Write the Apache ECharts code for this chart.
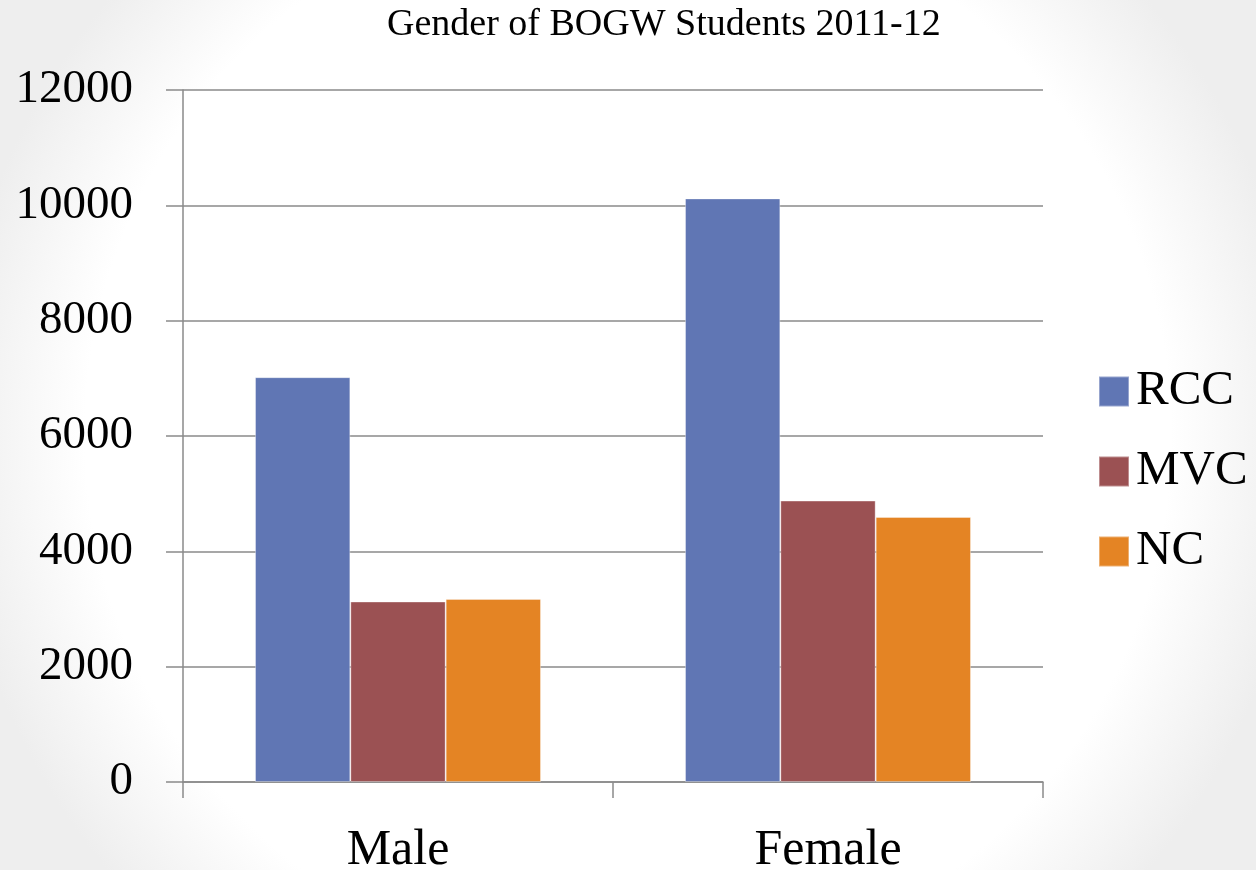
<!DOCTYPE html>
<html>
<head>
<meta charset="utf-8">
<title>Gender of BOGW Students 2011-12</title>
<script src="https://cdn.jsdelivr.net/npm/echarts@6/dist/echarts.min.js"></script>
<style>
  html, body { margin: 0; padding: 0; background: #fff; }
  #chart { width: 1256px; height: 870px; }
</style>
</head>
<body>
<div id="chart"></div>
<script>
// Students receiving the BOG fee waiver, by gender and college
const categories = ['Male', 'Female'];
const rccValues = [7020, 10120];
const mvcValues = [3130, 4880];
const ncValues = [3175, 4595];
const yTicks = [0, 2000, 4000, 6000, 8000, 10000, 12000];

const serif = '"Liberation Serif", "DejaVu Serif", serif';
const axisGray = '#8a8a8a';

const chart = echarts.init(document.getElementById('chart'), null, { renderer: 'canvas' });

function barSeries(name, data, color) {
  return {
    name: name,
    type: 'bar',
    data: data,
    barGap: '0%',
    barCategoryGap: '33.5%',
    itemStyle: { color: color, borderColor: 'rgba(255,255,255,0.35)', borderWidth: 1 },
    emphasis: { disabled: true }
  };
}

chart.setOption({
  animation: false,
  backgroundColor: {
    type: 'radial', x: 0.5, y: 0.5, r: 0.78,
    colorStops: [
      { offset: 0, color: '#ffffff' },
      { offset: 0.8, color: '#ffffff' },
      { offset: 1, color: '#eeeeee' }
    ]
  },
  title: {
    text: 'Gender of BOGW Students 2011-12',
    left: 382,
    top: 1,
    textStyle: { fontFamily: serif, fontSize: 38, fontWeight: 'normal', color: '#000' }
  },
  legend: {
    orient: 'vertical',
    left: 1093,
    top: 362,
    itemWidth: 30,
    itemHeight: 30,
    itemGap: 31,
    icon: 'rect',
    textStyle: { fontFamily: serif, fontSize: 49, color: '#000', padding: [0, 0, 0, 2] },
    data: ['RCC', 'MVC', 'NC']
  },
  grid: {
    left: 183, right: 213, top: 90, bottom: 88,
    outerBoundsMode: 'none', containLabel: false,
    backgroundColor: '#fff', show: true, borderWidth: 0
  },
  xAxis: {
    type: 'category',
    data: categories,
    axisLine: { show: true, lineStyle: { color: axisGray, width: 1.5 } },
    axisTick: { show: true, length: 16, lineStyle: { color: axisGray, width: 1.5 } },
    axisLabel: { fontFamily: serif, fontSize: 50, color: '#000', margin: 44 }
  },
  yAxis: {
    type: 'value',
    min: yTicks[0],
    max: yTicks[yTicks.length - 1],
    interval: 2000,
    axisLine: { show: true, lineStyle: { color: axisGray, width: 1.5 } },
    axisTick: { show: true, length: 17, lineStyle: { color: axisGray, width: 1.5 } },
    splitLine: { show: true, lineStyle: { color: axisGray, width: 1.5 } },
    axisLabel: {
      fontFamily: serif, fontSize: 47, color: '#000', margin: 50,
      formatter: function (v) { return String(v); }
    }
  },
  series: [
    barSeries('RCC', rccValues, '#6076B4'),
    barSeries('MVC', mvcValues, '#9B5153'),
    barSeries('NC', ncValues, '#E48424')
  ]
});
</script>
</body>
</html>
